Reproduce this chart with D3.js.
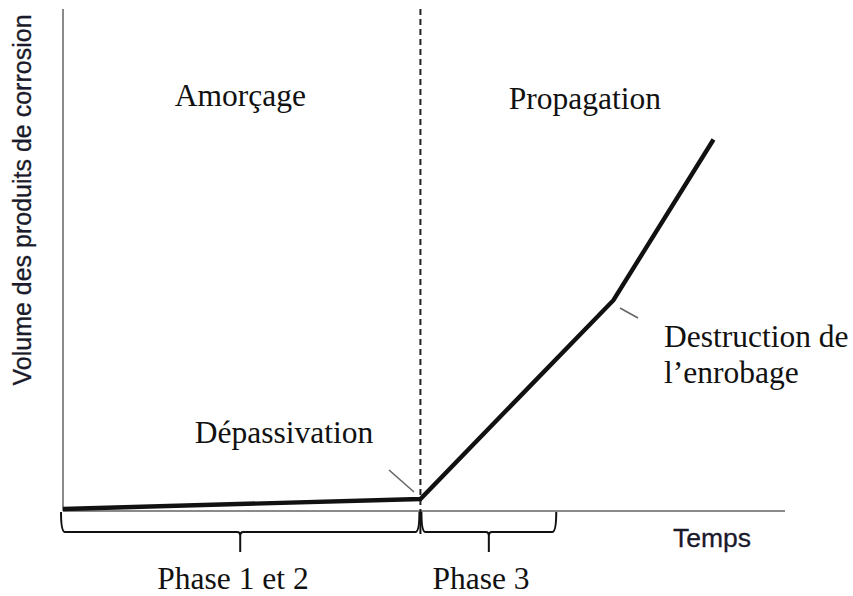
<!DOCTYPE html>
<html>
<head>
<meta charset="utf-8">
<script src="https://cdn.jsdelivr.net/npm/d3@7/dist/d3.min.js"></script>
<style>
  html, body { margin: 0; padding: 0; background: #fff; }
  svg { display: block; }
</style>
</head>
<body>
<svg id="chart" width="853" height="596"></svg>
<script>
// Corrosion product volume over time (schematic, arbitrary units)
const times   = [0, 5, 7.7, 9.1];
const volumes = [0.4, 2.4, 42, 74];

// Phase boundaries on the time axis
const phaseStarts = [0, 5];
const phaseEnds   = [5, 6.9];
const phaseLabels = ["Phase 1 et 2", "Phase 3"];

// Stage labels above the curve
const stageLabels = ["Amorçage", "Propagation"];
const stageTimes  = [2.48, 7.3];

const initTime = 5;          // onset of propagation (dashed line)
const xMax = 10.1, yMax = 100;

const svg = d3.select("#chart");
const x = d3.scaleLinear().domain([0, xMax]).range([63, 785]);
const y = d3.scaleLinear().domain([0, yMax]).range([511, 9]);

const serif = "'Liberation Serif', 'Times New Roman', serif";
const sans  = "'Liberation Sans', Arial, sans-serif";
const fs = 31.5;

// Axes
svg.append("line")
  .attr("x1", x(0)).attr("x2", x(0)).attr("y1", y(0)).attr("y2", y(yMax))
  .attr("stroke", "#8a8a8a").attr("stroke-width", 2);
svg.append("line")
  .attr("x1", x(0)).attr("x2", x(xMax)).attr("y1", y(0)).attr("y2", y(0))
  .attr("stroke", "#8a8a8a").attr("stroke-width", 2);

// Dashed separation between initiation and propagation
svg.append("line")
  .attr("x1", x(initTime)).attr("x2", x(initTime))
  .attr("y1", y(yMax)).attr("y2", y(0))
  .attr("stroke", "#222").attr("stroke-width", 2)
  .attr("stroke-dasharray", "6,4");

// Curve
const line = d3.line().x((d, i) => x(times[i])).y(d => y(d));
svg.append("path")
  .datum(volumes)
  .attr("d", line)
  .attr("fill", "none")
  .attr("stroke", "#111")
  .attr("stroke-width", 4.4)
  .attr("stroke-linejoin", "miter");

// Curly braces beneath the time axis
const yTop = y(0) + 1, yMid = y(0) + 21, yTip = y(0) + 41;
function brace(x0, x1) {
  const c = (x0 + x1) / 2;
  return `M${x0},${yTop} Q${x0},${yMid} ${x0 + 4},${yMid}` +
         ` L${c - 3},${yMid} Q${c},${yMid} ${c},${yMid + 4} L${c},${yTip}` +
         ` M${c},${yMid + 4} Q${c},${yMid} ${c + 3},${yMid}` +
         ` L${x1 - 4},${yMid} Q${x1},${yMid} ${x1},${yTop}`;
}
phaseStarts.forEach((s, i) => {
  const x0 = x(s) + (i === 0 ? -2 : 1);
  const x1 = x(phaseEnds[i]) - (i === 0 ? 1 : 0);
  svg.append("path")
    .attr("d", brace(x0, x1))
    .attr("fill", "none").attr("stroke", "#111").attr("stroke-width", 2);
});
// Junction tick between the braces
svg.append("line")
  .attr("x1", x(initTime)).attr("x2", x(initTime))
  .attr("y1", y(0)).attr("y2", yMid + 2)
  .attr("stroke", "#111").attr("stroke-width", 2);

// Phase labels
phaseLabels.forEach((t, i) => {
  svg.append("text")
    .attr("x", i === 0 ? 233 : 481).attr("y", 589)
    .attr("text-anchor", "middle")
    .attr("font-family", serif).attr("font-size", fs)
    .attr("fill", "#111").text(t);
});

// Stage labels
stageLabels.forEach((t, i) => {
  svg.append("text")
    .attr("x", x(stageTimes[i])).attr("y", i === 0 ? 106 : 109)
    .attr("text-anchor", "middle")
    .attr("font-family", serif).attr("font-size", fs)
    .attr("fill", "#111").text(t);
});

// Annotations with leader lines
svg.append("line")
  .attr("x1", 389).attr("y1", 470).attr("x2", 414).attr("y2", 492)
  .attr("stroke", "#666").attr("stroke-width", 1.6);
svg.append("text")
  .attr("x", 284).attr("y", 443).attr("text-anchor", "middle")
  .attr("font-family", serif).attr("font-size", fs)
  .attr("fill", "#111").text("Dépassivation");

svg.append("line")
  .attr("x1", 620).attr("y1", 308).attr("x2", 638).attr("y2", 318)
  .attr("stroke", "#666").attr("stroke-width", 1.6);
svg.append("text")
  .attr("x", 664).attr("y", 347)
  .attr("font-family", serif).attr("font-size", fs)
  .attr("fill", "#111").text("Destruction de");
svg.append("text")
  .attr("x", 664).attr("y", 383)
  .attr("font-family", serif).attr("font-size", fs)
  .attr("fill", "#111").text("l’enrobage");

// Axis titles
svg.append("text")
  .attr("x", 673).attr("y", 547)
  .attr("font-family", sans).attr("font-size", 26.5)
  .attr("fill", "#1a1a2a").attr("stroke", "#1a1a2a").attr("stroke-width", 0.3)
  .text("Temps");
svg.append("text")
  .attr("transform", "translate(31,200) rotate(-90)")
  .attr("text-anchor", "middle")
  .attr("font-family", sans).attr("font-size", 25)
  .attr("fill", "#1a1a2a").attr("stroke", "#1a1a2a").attr("stroke-width", 0.3)
  .text("Volume des produits de corrosion");
</script>
</body>
</html>
